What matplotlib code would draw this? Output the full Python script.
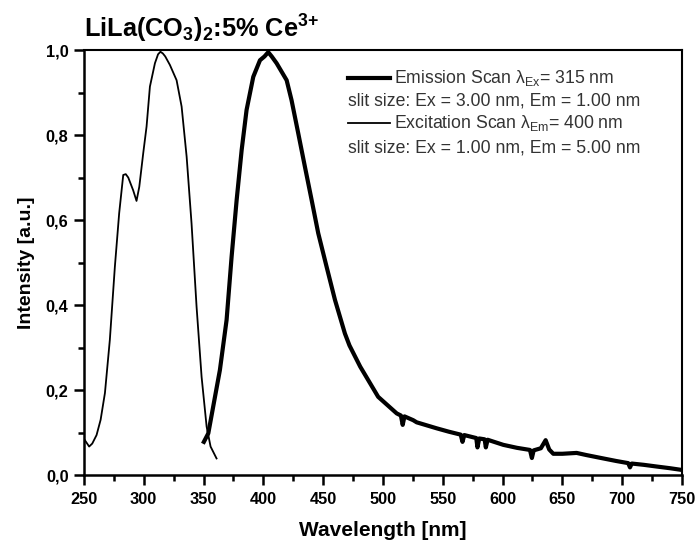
import numpy as np
import matplotlib
matplotlib.use("Agg")
import matplotlib.pyplot as plt
from matplotlib.ticker import MultipleLocator

plt.rcParams['font.family'] = ['Liberation Sans', 'DejaVu Sans']
plt.rcParams['mathtext.default'] = 'regular'

# emission scan (lambda_ex = 315 nm)
em_wl = [350.3, 354, 358.1, 363.7, 369.3, 373.5, 377.7, 381.9, 386, 391.6, 397.2, 401, 404.1,
         407, 411.1, 419.5, 423.6, 429.2, 434.8, 440.4, 445.9, 452.9, 459.9, 468.2, 472,
         481, 496, 511.5, 515, 516.5, 518, 525.3, 528.2, 544.8, 555, 565, 566.5, 568,
         578, 579, 580.5, 585, 586, 587.5, 600.6, 612, 622.9, 624.5, 626, 632, 636, 639,
         642.4, 650, 661.9, 670, 684.2, 695, 705, 706.5, 708, 718, 728.8, 740, 749.7]
em_int = [0.078, 0.098, 0.161, 0.247, 0.365, 0.514, 0.647, 0.765, 0.859, 0.937, 0.976, 0.985, 0.995,
          0.985, 0.969, 0.929, 0.882, 0.804, 0.725, 0.647, 0.569, 0.490, 0.412, 0.333, 0.305,
          0.255, 0.184, 0.145, 0.140, 0.118, 0.138, 0.129, 0.124, 0.110, 0.102, 0.095, 0.078, 0.094,
          0.087, 0.065, 0.086, 0.084, 0.065, 0.083, 0.071, 0.064, 0.059, 0.040, 0.058, 0.063, 0.082, 0.060,
          0.050, 0.050, 0.052, 0.047, 0.039, 0.033, 0.028, 0.018, 0.027, 0.024, 0.020, 0.016, 0.012]

# excitation scan (lambda_em = 400 nm)
ex_wl = [250.8, 252.5, 254.4, 257, 260.6, 264, 267.6, 271.7, 275.9, 279.5, 282.9, 285, 287.1,
         291.2, 294.0, 296.3, 299.6, 302.4, 305.2, 309.4, 312, 314, 316, 318, 321.9, 327.5,
         331.7, 335.9, 340.0, 344.2, 348.4, 352.6, 355.9, 360.9]
ex_int = [0.082, 0.075, 0.067, 0.074, 0.094, 0.13, 0.193, 0.318, 0.49, 0.616, 0.706, 0.708, 0.700,
          0.67, 0.645, 0.678, 0.757, 0.82, 0.914, 0.969, 0.990, 0.996, 0.992, 0.985, 0.965, 0.929,
          0.867, 0.749, 0.592, 0.396, 0.231, 0.114, 0.067, 0.039]

legend_rows = [r'Emission Scan λ$_{Ex}$= 315 nm',
               'slit size: Ex = 3.00 nm, Em = 1.00 nm',
               r'Excitation Scan λ$_{Em}$= 400 nm',
               'slit size: Ex = 1.00 nm, Em = 5.00 nm']

fig = plt.figure(figsize=(6.99, 5.44), dpi=100)
ax = fig.add_axes([0.120, 0.1268, 0.8557, 0.7812])

ax.plot(em_wl, em_int, color='black', lw=3.0, solid_joinstyle='round')
ax.plot(ex_wl, ex_int, color='black', lw=1.3)

ax.set_xlim(250, 750)
ax.set_ylim(0, 1.0)
ax.xaxis.set_major_locator(MultipleLocator(50))
ax.xaxis.set_minor_locator(MultipleLocator(25))
ax.yaxis.set_major_locator(MultipleLocator(0.2))
ax.yaxis.set_minor_locator(MultipleLocator(0.1))
ax.yaxis.set_major_formatter(lambda v, p: ('%.1f' % v).replace('.', ','))

ax.tick_params(which='both', direction='out', width=1.8, top=False, right=False)
ax.tick_params(which='major', length=7)
ax.tick_params(which='minor', length=4.5)
ax.tick_params(axis='y', pad=4)
ax.tick_params(axis='x', pad=5)
for lab in ax.get_xticklabels() + ax.get_yticklabels():
    lab.set_fontweight('bold')
    lab.set_fontsize(11.8)
for s in ['left', 'bottom']:
    ax.spines[s].set_linewidth(1.8)
for s in ['top', 'right']:
    ax.spines[s].set_linewidth(1.5)

ax.set_xlabel('Wavelength [nm]', fontsize=15, fontweight='bold', labelpad=10)
ax.set_ylabel('Intensity [a.u.]', fontsize=14, fontweight='bold', labelpad=8)

ax.text(0.0, 1.012, r'LiLa(CO$_3$)$_2$:5% Ce$^{3{+}}$', transform=ax.transAxes,
        fontsize=18.3, fontweight='bold', ha='left', va='bottom')

# hand-made legend
row_y = [0.935, 0.880, 0.8275, 0.770]
widths = [3.0, None, 1.3, None]
for txt, yy, w in zip(legend_rows, row_y, widths):
    if w is not None:
        ax.plot([0.4415, 0.5117], [yy, yy], color='black', lw=w, transform=ax.transAxes)
        ax.text(0.519, yy, txt, transform=ax.transAxes, fontsize=12.7, color='#333333', va='center')
    else:
        ax.text(0.4415, yy, txt, transform=ax.transAxes, fontsize=12.7, color='#333333', va='center')

fig.savefig('out.png', dpi=100)
